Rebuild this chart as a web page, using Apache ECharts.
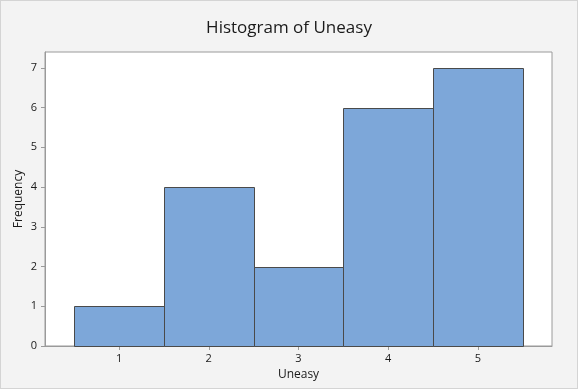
<!DOCTYPE html>
<html><head><meta charset="utf-8">
<script src="https://cdn.jsdelivr.net/npm/echarts@6/dist/echarts.min.js"></script>
<style>html,body{margin:0;padding:0;background:#f3f3f3;}
#c{width:576px;height:387px;border:1px solid #d4d4d4;}</style>
</head><body><div id="c"></div>
<script>
const categories = [1, 2, 3, 4, 5];
const frequency = [1, 4, 2, 6, 7];
const yTicks = [0, 1, 2, 3, 4, 5, 6, 7];

const chart = echarts.init(document.getElementById('c'), null, {renderer: 'canvas'});
const data = categories.map((c, i) => [c, frequency[i]]);
chart.setOption({
  backgroundColor: '#f3f3f3',
  animation: false,
  title: {text: 'Histogram of Uneasy', left: 'center', top: 14,
    textStyle: {fontFamily: 'Open Sans', fontSize: 17, fontWeight: 'normal', color: '#1a1a1a'}},
  grid: {left: 44, right: 25, top: 51, bottom: 42, show: true, backgroundColor: '#ffffff',
    borderColor: '#9a9a9a', borderWidth: 1},
  xAxis: {type: 'value', min: 0.175, max: 5.825, interval: 1,
    name: 'Uneasy', nameLocation: 'middle', nameGap: 23, nameMoveOverlap: false,
    nameTextStyle: {fontFamily: 'Open Sans', fontSize: 12, color: '#1a1a1a'},
    axisLine: {show: true, lineStyle: {color: '#9a9a9a'}},
    axisTick: {show: true, length: 4, lineStyle: {color: '#9a9a9a'}, customValues: categories},
    axisLabel: {fontFamily: 'Open Sans', fontSize: 11, color: '#1a1a1a', margin: 7, customValues: categories},
    splitLine: {show: false}},
  yAxis: {type: 'value', min: 0, max: 7.4,
    name: 'Frequency', nameLocation: 'middle', nameGap: 20, nameMoveOverlap: false,
    nameTextStyle: {fontFamily: 'Open Sans', fontSize: 12, color: '#1a1a1a'},
    axisLine: {show: true, lineStyle: {color: '#9a9a9a'}},
    axisTick: {show: true, length: 4, lineStyle: {color: '#9a9a9a'}, customValues: yTicks},
    axisLabel: {fontFamily: 'Open Sans', fontSize: 11, color: '#1a1a1a', margin: 8, customValues: yTicks},
    splitLine: {show: false}},
  series: [{
    type: 'custom',
    data: data,
    renderItem: function (params, api) {
      const x = api.value(0), y = api.value(1);
      const p0 = api.coord([x - 0.5, y]);
      const p1 = api.coord([x + 0.5, 0]);
      return {type: 'rect',
        shape: {x: Math.round(p0[0]) + 0.5, y: Math.round(p0[1]) + 0.5,
                width: Math.round(p1[0]) - Math.round(p0[0]), height: Math.round(p1[1]) - Math.round(p0[1])},
        style: {fill: '#7da7d9', stroke: '#4a4a4a', lineWidth: 1}};
    }
  }]
});
</script></body></html>
